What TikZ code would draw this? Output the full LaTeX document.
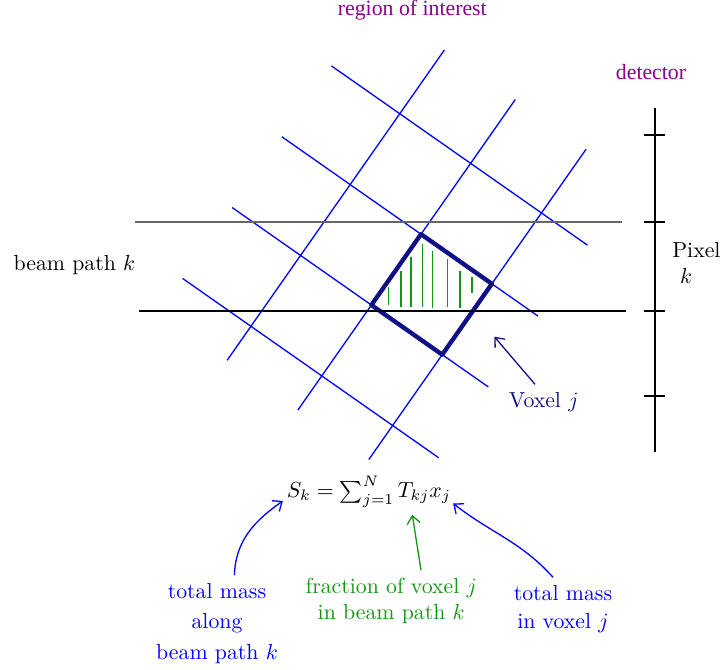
\documentclass[tikz,border=0pt]{standalone}
\usepackage{fontspec}
\usepackage{amsmath}
\usepackage{xcolor}
\usetikzlibrary{arrows.meta}
\newfontfamily\roifont{Liberation Serif}
\definecolor{roipurple}{RGB}{140,0,140}
\definecolor{voxelnavy}{RGB}{15,15,135}
\definecolor{pathgreen}{RGB}{20,150,20}

\begin{document}
\begin{tikzpicture}[
    >={Straight Barb[length=3.6pt,width=6pt]},
    gridline/.style={blue, line width=0.6pt},
    beamline/.style={line width=0.6pt},
    hatch/.style={pathgreen, line width=0.7pt},
    note/.style={align=center, text=blue},
    pointer/.style={->, line width=0.6pt}
  ]
  \useasboundingbox (0,0) rectangle (11.645,-10.806);

  \node[text=roipurple, font=\roifont] (roi) at (6.65,-0.16) {region of interest};
  \node[text=roipurple, font=\roifont] (det) at (10.5,-1.16) {detector};

  \begin{scope}[shift={(5.99,-4.92)}, rotate=55, scale=1.395]
    \foreach \v in {-1,0,1}
      \draw[gridline] (-1.48,\v) -- (2.9,\v);
    \foreach \u in {-1,0,1,2}
      \draw[gridline] (\u,1.965) -- (\u,-1.65);
  \end{scope}

  \foreach \x/\t/\b in {6.263/4.634/4.919, 6.468/4.371/4.947, 6.629/4.140/4.947,
      6.818/3.935/4.947, 6.979/4.048/4.968, 7.215/4.182/4.947,
      7.419/4.371/4.968, 7.613/4.463/4.731}
    \draw[hatch] (\x,-\t) -- (\x,-\b);

  \begin{scope}[shift={(5.99,-4.92)}, rotate=55, scale=1.395]
    \draw[voxelnavy, line width=2pt, line join=round]
      (0,0) -- (1,0) -- (1,-1) -- (0,-1) -- cycle;
  \end{scope}

  \draw[beamline, black!60] (2.177,-3.581) -- (10.032,-3.581);
  \draw[beamline] (2.242,-5.016) -- (10.097,-5.016);
  \node (beam) at (1.20,-4.27) {beam path $k$};

  \draw[line width=0.6pt] (10.565,-1.742) -- (10.565,-7.290);
  \foreach \y in {-2.177,-3.581,-5.016,-6.387}
    \draw[line width=0.6pt] (10.387,\y) -- (10.726,\y);
  \node[anchor=west, align=left] (pix) at (10.72,-4.24) {Pixel\\\hspace*{3.6pt}$k$};

  \node[text=voxelnavy] (voxlab) at (8.77,-6.48) {Voxel $j$};
  \coordinate (voxtip) at (7.973,-5.431);
  \draw[pointer, voxelnavy] ([xshift=-1.4mm]voxlab.north) -- (voxtip);

  \node (eq) at (5.95,-7.93) {$S_k = \sum_{j=1}^N T_{kj} x_j$};

  \node[note] (massk) at (3.5,-10.05) {total mass\\[2pt]along\\[2pt]beam path $k$};
  \node[note, text=pathgreen] (frac) at (6.31,-9.69) {fraction of voxel $j$\\in beam path $k$};
  \node[note] (massj) at (9.08,-9.82) {total mass\\[1pt]in voxel $j$};

  \draw[pointer, blue] ([xshift=2.8mm]massk.north) to[out=88,in=-145] ([xshift=0.6mm,yshift=-1.5mm]eq.west);
  \draw[pointer, pathgreen] ([xshift=4.8mm]frac.north) -- ([xshift=7mm]eq.south);
  \draw[pointer, blue] ([xshift=-1.6mm]massj.north) to[out=132,in=-38] ([xshift=-0.9mm,yshift=-1.9mm]eq.east);
\end{tikzpicture}
\end{document}
